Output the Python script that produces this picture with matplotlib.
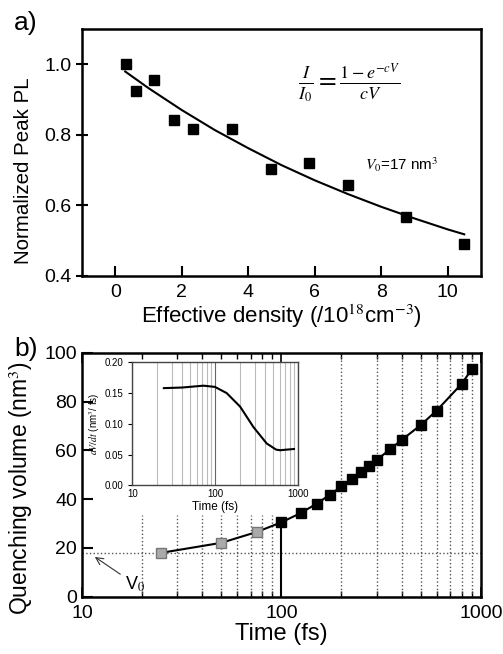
import numpy as np
import matplotlib
matplotlib.use('Agg')
from matplotlib import pyplot as plt

plt.rcParams.update({'font.family': ['Liberation Sans', 'DejaVu Sans'],
                     'mathtext.fontset': 'stix'})

# panel a: normalized peak PL vs effective density
density = [0.32, 0.62, 1.18, 1.77, 2.35, 3.52, 4.69, 5.84, 7.0, 8.75, 10.5]
peak_pl = [1.0, 0.924, 0.954, 0.842, 0.817, 0.817, 0.703, 0.72, 0.657, 0.567, 0.49]
fit_x = [0.3, 1, 2, 3, 4, 5, 6, 7, 8, 9, 10, 10.5]
fit_y = [0.979, 0.932, 0.870, 0.813, 0.762, 0.714, 0.671, 0.632, 0.596, 0.563, 0.532, 0.518]

# panel b: quenching volume vs time
t_gray = [25, 50, 75]
v_gray = [18.0, 22.1, 26.5]
t_black = [100, 125, 150, 175, 200, 225, 250, 275, 300, 350, 400, 500, 600, 800, 900]
v_black = [30.5, 34.3, 38.1, 41.8, 45.2, 48.2, 51.2, 53.7, 56.0, 60.4, 64.2, 70.4, 76.3, 87.2, 93.2]
v0 = 18.0

# inset: dV/dt
t_rate = [24, 40, 72, 99, 137, 199, 287, 416, 540, 603, 887]
rate = [0.158, 0.159, 0.162, 0.160, 0.150, 0.128, 0.095, 0.068, 0.058, 0.057, 0.059]

fig = plt.figure(figsize=(5.03, 6.54), dpi=100)

# ---- a) ----
ax1 = fig.add_axes([0.163, 0.578, 0.793, 0.378])
ax1.plot(fit_x, fit_y, color='black', lw=1.5)
ax1.plot(density, peak_pl, 's', color='black', ms=6.5)
ax1.set_xlim(-1, 11)
ax1.set_ylim(0.4, 1.1)
ax1.set_xticks([0, 2, 4, 6, 8, 10])
ax1.set_yticks([0.4, 0.6, 0.8, 1.0])
ax1.set_yticklabels(['0.4', '0.6', '0.8', '1.0'])
ax1.tick_params(axis='x', direction='in', length=7, width=1.5, labelsize=14, pad=6)
ax1.tick_params(axis='y', direction='inout', length=8, width=1.5, labelsize=14)
for s in ax1.spines.values():
    s.set_linewidth(1.8)
ax1.set_xlabel('Effective density (/10$^{18}$cm$^{-3}$)', fontsize=16, labelpad=1)
ax1.set_ylabel('Normalized Peak PL', fontsize=14.8)
ax1.yaxis.set_label_coords(-0.122, 0.425)
ax1.text(7.05, 0.945, r'$\frac{I}{I_0}=\frac{1-e^{-cV}}{cV}$', fontsize=18.5,
         ha='center', va='center')
ax1.text(7.5, 0.714, r'$V_0$=17 nm$^3$', fontsize=11, ha='left', va='center')
fig.text(0.028, 0.965, 'a)', fontsize=19, va='center')

# ---- b) ----
ax2 = fig.add_axes([0.163, 0.0876, 0.793, 0.373])
ax2.set_xscale('log')
ax2.set_xlim(10, 1000)
ax2.set_ylim(0, 100)
for t in [20, 30, 40, 50, 60, 70, 80, 90]:
    ax2.plot([t, t], [0, 33.3], ls=':', color='#555555', lw=1)
for t in [200, 300, 400, 500, 600, 700, 800, 900]:
    ax2.plot([t, t], [0, 100], ls=':', color='#555555', lw=1)
ax2.axhline(v0, ls=':', color='#555555', lw=1)
ax2.plot([100, 100], [0, v_black[0]], color='black', lw=1.5)
ax2.plot(t_gray + t_black, v_gray + v_black, color='black', lw=1.5)
ax2.plot(t_gray, v_gray, 's', color='#aaaaaa', mec='#777777', ms=6.5)
ax2.plot(t_black, v_black, 's', color='black', ms=6.5)
ax2.set_xticks([10, 100, 1000])
ax2.set_xticklabels(['10', '100', '1000'])
ax2.set_yticks([0, 20, 40, 60, 80, 100])
ax2.tick_params(axis='x', which='both', direction='in', top=True, labelsize=14, pad=6)
ax2.tick_params(axis='x', which='major', length=7, width=1.2)
ax2.tick_params(axis='x', which='minor', length=4, width=1)
ax2.tick_params(axis='y', direction='in', length=8, width=1.5, labelsize=14)
for s in ax2.spines.values():
    s.set_linewidth(1.8)
ax2.set_xlabel('Time (fs)', fontsize=17, labelpad=1)
ax2.set_ylabel('Quenching volume (nm$^3$)', fontsize=16.5)
ax2.yaxis.set_label_coords(-0.118, 0.445)
ax2.annotate('V$_0$', xy=(11.6, 16.3), xytext=(16.5, 5.0), fontsize=13,
             ha='left', va='center',
             arrowprops=dict(arrowstyle='->', color='#333333', lw=0.8,
                             shrinkA=2, shrinkB=0))
fig.text(0.028, 0.466, 'b)', fontsize=19, va='center')

# ---- inset ----
ax3 = fig.add_axes([0.263, 0.258, 0.330, 0.188])
ax3.set_xscale('log')
ax3.set_xlim(10, 1000)
ax3.set_ylim(0, 0.20)
ax3.grid(True, which='minor', axis='x', color='#bbbbbb', lw=0.8)
ax3.grid(True, which='major', axis='x', color='#666666', lw=0.8)
ax3.plot(t_rate, rate, color='black', lw=1.5)
ax3.set_xticks([10, 100, 1000])
ax3.set_xticklabels(['10', '100', '1000'])
ax3.set_yticks([0, 0.05, 0.10, 0.15, 0.20])
ax3.set_yticklabels(['0.00', '0.05', '0.10', '0.15', '0.20'])
ax3.tick_params(axis='x', which='both', length=0, labelsize=7, pad=3)
ax3.tick_params(axis='y', direction='out', length=3, labelsize=7)
for s in ax3.spines.values():
    s.set_linewidth(1.0)
    s.set_color('#444444')
ax3.set_xlabel('Time (fs)', fontsize=8.5, labelpad=1)
ax3.set_ylabel(r'$dV/dt$ (nm$^3$/ fs)', fontsize=7, labelpad=2)

fig.savefig('out.png', dpi=100)
